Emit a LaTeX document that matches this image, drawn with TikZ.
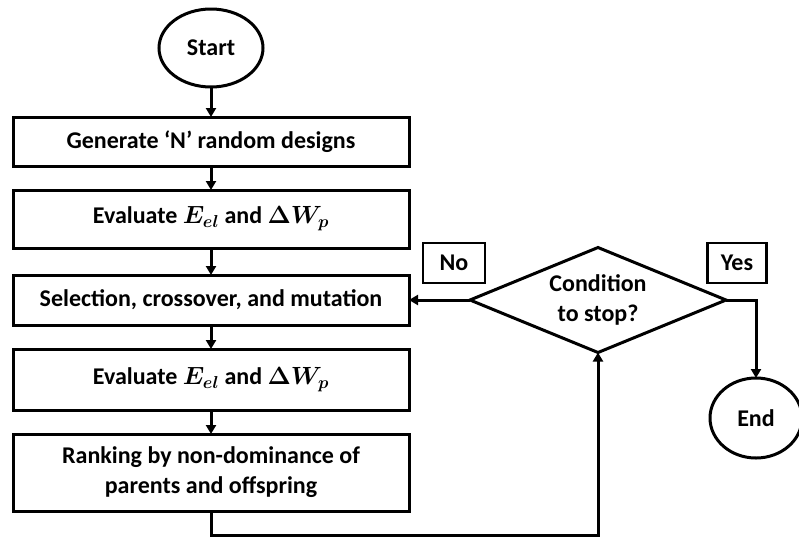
\documentclass[tikz,border=0pt]{standalone}
\usepackage{amsmath,amssymb}
\usepackage{fontspec}
\setmainfont{Carlito}
\usepackage{tikz}
\usetikzlibrary{arrows.meta,positioning,shapes.geometric}
\usepackage{xcolor}

\tikzset{
  stepbox/.style={draw, line width=3pt, outer sep=0pt, minimum width=396pt, minimum height=49pt, inner sep=2pt, align=center},
  terminal/.style={draw, ellipse, line width=3pt, outer sep=0pt, inner sep=0pt},
  decision/.style={draw, diamond, line width=3pt, outer sep=0pt, aspect=2.45, inner sep=0pt, minimum width=256pt, minimum height=105pt, align=center},
  tagbox/.style={draw, line width=2.5pt, minimum height=40pt},
  flow/.style={line width=3pt, ->},
}

\begin{document}
\begin{tikzpicture}[x=1pt, y=1pt, font=\fontsize{24}{30}\selectfont\bfseries\boldmath, >={Triangle[length=9pt,width=10pt]}]
\useasboundingbox (0,0) rectangle (799,-539);
\node[terminal, minimum width=104pt, minimum height=78pt] (start) at (211,-48) {Start};
\node[stepbox, below=30pt of start] (gen) {Generate ‘N’ random designs};
\node[stepbox, below=24pt of gen, minimum height=58pt] (evalA) {Evaluate $E_{el}$ and $\Delta W_p$};
\node[stepbox, below=27pt of evalA, minimum height=50pt] (select) {Selection, crossover, and mutation};
\node[stepbox, below=24pt of select, minimum height=61pt] (evalB) {Evaluate $E_{el}$ and $\Delta W_p$};
\node[stepbox, below=24pt of evalB, minimum height=77pt] (rank) {Ranking by non-dominance of\\parents and offspring};
\node[decision, right=61pt of select] (cond) {Condition\\to stop?};
\node[tagbox, minimum width=62pt] (no) at (454,-263) {No};
\node[tagbox, minimum width=59pt] (yes) at (737,-263) {Yes};
\node[terminal, minimum width=92pt, minimum height=80pt] (end) at (756,-418) {End};

\draw[flow] (start) -- (gen);
\draw[flow] (gen) -- (evalA);
\draw[flow] (evalA) -- (select);
\draw[flow] (select) -- (evalB);
\draw[flow] (evalB) -- (rank);
\draw[flow] (rank.south) -- ++(0,-24) -| (cond.south);
\draw[flow] (cond.west) -- (select.east);
\draw[flow] (cond.east) -| (end.north);
\end{tikzpicture}
\end{document}
